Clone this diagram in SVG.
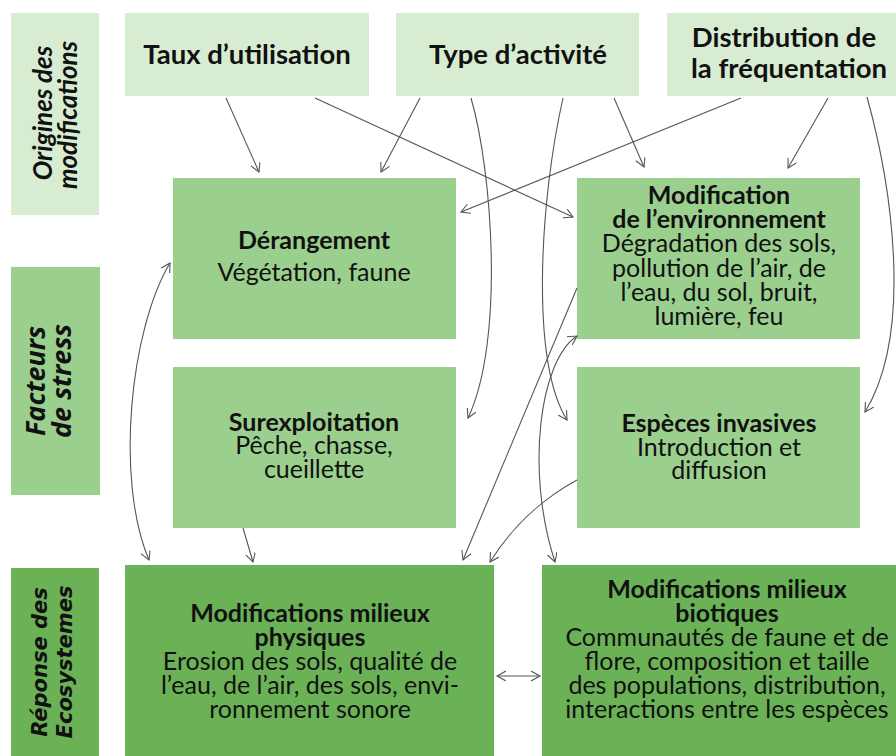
<svg xmlns="http://www.w3.org/2000/svg" width="896" height="756" viewBox="0 0 896 756">
<defs>
<style>
.l1{fill:#d8ecd2}
.l2{fill:#9bcf8e}
.l3{fill:#6bb257}
text{font-family:Lato,"Liberation Sans",sans-serif;fill:#111;text-anchor:middle}
.top{font-size:27.5px;font-weight:bold}
.b{font-size:25px;font-weight:bold}
.r{font-size:25px}
.side{font-size:26px;font-weight:bold;font-style:italic}
.side2{font-family:"Open Sans",Lato,sans-serif;font-size:27px;font-weight:bold;font-style:italic}
.side3{font-family:"DejaVu Sans",sans-serif;font-size:21px;font-weight:bold;font-style:oblique}
.c{fill:none;stroke:#555;stroke-width:1.1}
</style>
<marker id="ah" markerWidth="12" markerHeight="12" refX="9" refY="5" orient="auto-start-reverse" markerUnits="userSpaceOnUse">
<path d="M0,0 L9,5 L0,10" fill="none" stroke="#555" stroke-width="1.1"/>
</marker>
</defs>
<rect width="896" height="756" fill="#fff"/>

<g id="lbl-origines">
<rect class="l1" x="11" y="13" width="88" height="202"/>
<text class="side" transform="translate(52,113) rotate(-90)">Origines des</text>
<text class="side" transform="translate(77,115) rotate(-90)">modifications</text>
</g>
<g id="lbl-facteurs">
<rect class="l2" x="11" y="267" width="89" height="228"/>
<text class="side2" transform="translate(45,381) rotate(-90)">Facteurs</text>
<text class="side2" transform="translate(71,381) rotate(-90)">de stress</text>
</g>
<g id="lbl-reponse">
<rect class="l3" x="11" y="568" width="88" height="188"/>
<text class="side3" transform="translate(47,662) rotate(-90)">Réponse des</text>
<text class="side3" transform="translate(72,662) rotate(-90)">Ecosystemes</text>
</g>

<g id="taux">
<rect class="l1" x="125" y="13" width="244" height="83"/>
<text class="top" x="247" y="64">Taux d’utilisation</text>
</g>
<g id="type">
<rect class="l1" x="396" y="13" width="243" height="83"/>
<text class="top" x="518" y="64">Type d’activité</text>
</g>
<g id="distribution">
<rect class="l1" x="667" y="13" width="240" height="83"/>
<text class="top" x="784" y="47">Distribution de</text>
<text class="top" x="789" y="78">la fréquentation</text>
</g>

<g id="derangement">
<rect class="l2" x="173" y="178" width="283" height="161"/>
<text class="b" x="314" y="249">Dérangement</text>
<text class="r" x="314" y="281">Végétation, faune</text>
</g>
<g id="modif-env">
<rect class="l2" x="577" y="178" width="283" height="161"/>
<text class="b" x="719" y="204">Modification</text>
<text class="b" x="719" y="228">de l’environnement</text>
<text class="r" x="719" y="252">Dégradation des sols,</text>
<text class="r" x="719" y="277">pollution de l’air, de</text>
<text class="r" x="719" y="301">l’eau, du sol, bruit,</text>
<text class="r" x="719" y="325">lumière, feu</text>
</g>
<g id="surexploitation">
<rect class="l2" x="173" y="367" width="283" height="161"/>
<text class="b" x="314" y="431">Surexploitation</text>
<text class="r" x="314" y="454">Pêche, chasse,</text>
<text class="r" x="314" y="478">cueillette</text>
</g>
<g id="especes">
<rect class="l2" x="577" y="367" width="283" height="161"/>
<text class="b" x="719" y="432">Espèces invasives</text>
<text class="r" x="719" y="456">Introduction et</text>
<text class="r" x="719" y="479">diffusion</text>
</g>

<g id="physiques">
<rect class="l3" x="125" y="565" width="369" height="191"/>
<text class="b" x="310" y="622">Modifications milieux</text>
<text class="b" x="310" y="646">physiques</text>
<text class="r" x="310" y="670">Erosion des sols, qualité de</text>
<text class="r" x="310" y="694">l’eau, de l’air, des sols, envi-</text>
<text class="r" x="310" y="718">ronnement sonore</text>
</g>
<g id="biotiques">
<rect class="l3" x="542" y="565" width="370" height="191"/>
<text class="b" x="727" y="598">Modifications milieux</text>
<text class="b" x="727" y="622">biotiques</text>
<text class="r" x="727" y="646">Communautés de faune et de</text>
<text class="r" x="727" y="670">flore, composition et taille</text>
<text class="r" x="727" y="694">des populations, distribution,</text>
<text class="r" x="727" y="718">interactions entre les espèces</text>
</g>

<g id="connectors" class="c">
<path class="c" d="M226,98 L259,172" marker-end="url(#ah)"/>
<path class="c" d="M315,98 L573,217" marker-end="url(#ah)"/>
<path class="c" d="M420,98 L381,172" marker-end="url(#ah)"/>
<path class="c" d="M471,98 C492,170 505,340 468,418" marker-end="url(#ah)"/>
<path class="c" d="M563,98 C540,200 530,360 567,420" marker-end="url(#ah)"/>
<path class="c" d="M614,98 L644,167" marker-end="url(#ah)"/>
<path class="c" d="M741,98 L461,212" marker-end="url(#ah)"/>
<path class="c" d="M828,98 L788,168" marker-end="url(#ah)"/>
<path class="c" d="M867,97 C890,180 915,330 865,412" marker-end="url(#ah)"/>
<path class="c" d="M170,263 C130,330 115,480 149,560" marker-start="url(#ah)" marker-end="url(#ah)"/>
<path class="c" d="M243,528 L253,562" marker-end="url(#ah)"/>
<path class="c" d="M577,288 L463,560" marker-end="url(#ah)"/>
<path class="c" d="M577,480 C540,500 510,530 490,562" marker-end="url(#ah)"/>
<path class="c" d="M577,336 C540,360 525,470 555,562" marker-start="url(#ah)" marker-end="url(#ah)"/>
<path class="c" d="M497,676 L540,676" marker-start="url(#ah)" marker-end="url(#ah)"/>
</g>
</svg>
